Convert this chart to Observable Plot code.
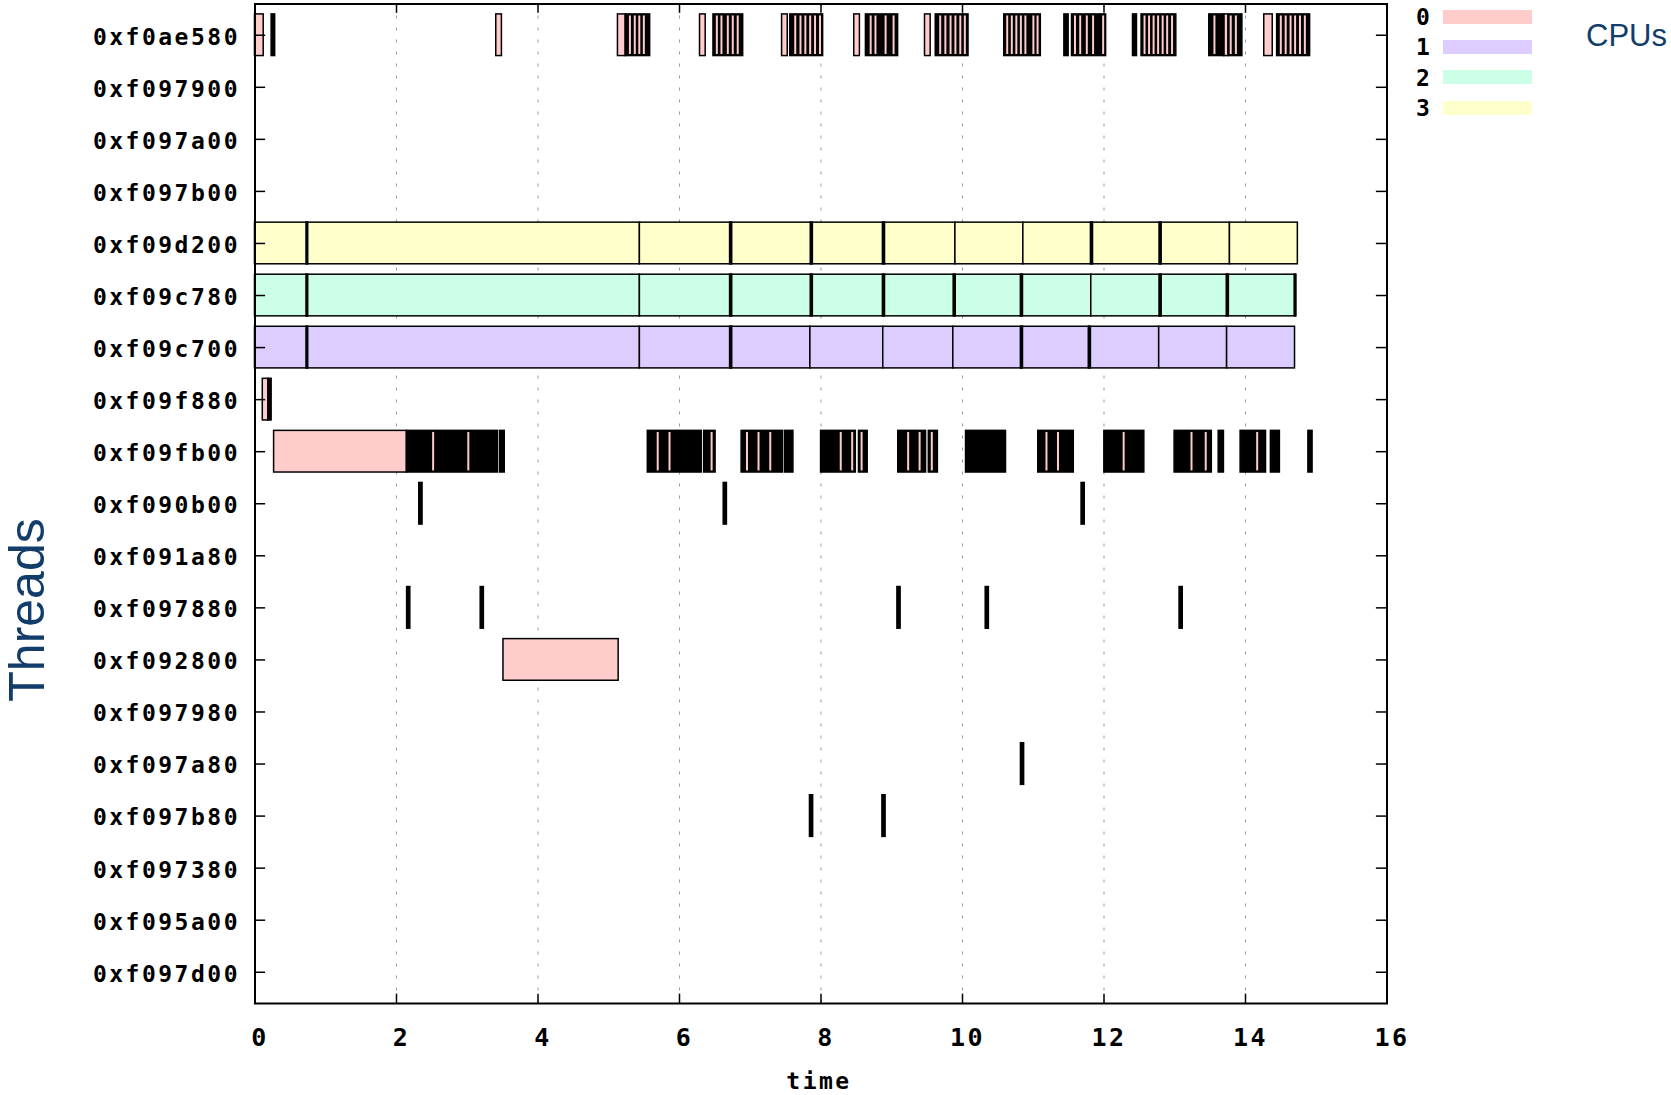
<!DOCTYPE html>
<html><head><meta charset="utf-8">
<script src="https://cdn.jsdelivr.net/npm/d3@7"></script>
<script src="https://cdn.jsdelivr.net/npm/@observablehq/plot@0.6"></script>
<style>
body{margin:0;background:#fff;}
#wrap{position:relative;width:1671px;height:1095px;overflow:hidden;}
.gp{font-family:"DejaVu Sans Mono",monospace;font-weight:bold;letter-spacing:2.5px;position:absolute;}
.ttl{font-family:"Liberation Sans",Arial,sans-serif;color:#123d6b;position:absolute;white-space:nowrap;}
</style></head><body><div id="wrap"></div>
<script>
// ---- categories ----
const threads = ["0xf0ae580","0xf097900","0xf097a00","0xf097b00","0xf09d200","0xf09c780","0xf09c700","0xf09f880","0xf09fb00","0xf090b00","0xf091a80","0xf097880","0xf092800","0xf097980","0xf097a80","0xf097b80","0xf097380","0xf095a00","0xf097d00"];
const cpus = [0, 1, 2, 3];
const cpuColors = ["#ffcccc", "#ddccff", "#ccffe8", "#ffffcc"];
const xTicks = [0, 2, 4, 6, 8, 10, 12, 14, 16];

// ---- CPU boundaries of the long-running threads (time) ----
const cpu3Bounds = [0, 0.74, 5.44, 6.73, 7.87, 8.89, 9.90, 10.86, 11.83, 12.80, 13.78, 14.74]; // 0xf09d200
const cpu2Bounds = [0, 0.74, 5.44, 6.73, 7.87, 8.89, 9.89, 10.84, 11.82, 12.80, 13.75, 14.71]; // 0xf09c780
const cpu1Bounds = [0, 0.74, 5.44, 6.73, 7.85, 8.88, 9.87, 10.84, 11.80, 12.78, 13.74, 14.70]; // 0xf09c700

// ---- other slices on CPU 0: [thread, start, end] ----
const cpu0Slices = [
  ["0xf0ae580", 0, 0.123], ["0xf0ae580", 3.41, 3.49], ["0xf0ae580", 5.13, 5.24], ["0xf0ae580", 6.29, 6.37],
  ["0xf0ae580", 7.45, 7.53], ["0xf0ae580", 8.47, 8.55], ["0xf0ae580", 9.47, 9.55], ["0xf0ae580", 13.70, 13.76],
  ["0xf0ae580", 14.265, 14.385],
  ["0xf09f880", 0.11, 0.19],
  ["0xf09fb00", 0.27, 2.147],
  ["0xf092800", 3.512, 5.14]
];

// ---- dense runs of very short slices (drawn solid black): [thread, start, end] ----
const denseRuns = [
  ["0xf0ae580", 0.235, 0.285], ["0xf0ae580", 5.24, 5.585], ["0xf0ae580", 6.48, 6.90], ["0xf0ae580", 7.566, 8.03],
  ["0xf0ae580", 8.635, 9.09], ["0xf0ae580", 9.622, 10.085], ["0xf0ae580", 10.59, 11.107], ["0xf0ae580", 11.44, 11.50],
  ["0xf0ae580", 11.548, 12.03], ["0xf0ae580", 12.41, 12.466], ["0xf0ae580", 12.531, 13.022], ["0xf0ae580", 13.488, 13.70],
  ["0xf0ae580", 13.76, 13.956], ["0xf0ae580", 14.447, 14.913],
  ["0xf09d200", 0.728, 0.752], ["0xf09d200", 6.715, 6.745], ["0xf09d200", 7.855, 7.885], ["0xf09d200", 8.875, 8.905],
  ["0xf09d200", 11.815, 11.845], ["0xf09d200", 12.785, 12.815],
  ["0xf09c780", 0.728, 0.752], ["0xf09c780", 6.715, 6.745], ["0xf09c780", 7.855, 7.885], ["0xf09c780", 8.875, 8.905],
  ["0xf09c780", 9.875, 9.905], ["0xf09c780", 10.825, 10.855], ["0xf09c780", 12.785, 12.815], ["0xf09c780", 13.735, 13.765],
  ["0xf09c780", 14.695, 14.72],
  ["0xf09c700", 0.728, 0.752], ["0xf09c700", 6.715, 6.745], ["0xf09c700", 10.825, 10.855], ["0xf09c700", 11.785, 11.815],
  ["0xf09f880", 0.19, 0.235],
  ["0xf09fb00", 2.147, 3.435], ["0xf09fb00", 3.465, 3.53], ["0xf09fb00", 5.552, 6.314], ["0xf09fb00", 6.348, 6.51],
  ["0xf09fb00", 6.878, 7.463], ["0xf09fb00", 7.492, 7.61], ["0xf09fb00", 8.001, 8.492], ["0xf09fb00", 8.537, 8.66],
  ["0xf09fb00", 9.092, 9.485], ["0xf09fb00", 9.524, 9.652], ["0xf09fb00", 10.05, 10.615], ["0xf09fb00", 11.071, 11.573],
  ["0xf09fb00", 12.005, 12.57], ["0xf09fb00", 12.998, 13.524], ["0xf09fb00", 13.621, 13.695], ["0xf09fb00", 13.931, 14.29],
  ["0xf09fb00", 14.359, 14.486], ["0xf09fb00", 14.889, 14.948],
  ["0xf090b00", 2.322, 2.368], ["0xf090b00", 6.625, 6.67], ["0xf090b00", 11.683, 11.728],
  ["0xf097880", 2.15, 2.195], ["0xf097880", 3.19, 3.235], ["0xf097880", 9.08, 9.125], ["0xf097880", 10.328, 10.373], ["0xf097880", 13.068, 13.113],
  ["0xf097a80", 10.826, 10.871],
  ["0xf097b80", 7.844, 7.889], ["0xf097b80", 8.868, 8.913]
];

// ---- visible CPU-0 slices inside the dense runs: [thread, centre time] ----
const cpu0Slits = [
  ["0xf0ae580", 5.306], ["0xf0ae580", 5.375], ["0xf0ae580", 5.439], ["0xf0ae580", 5.503],
  ["0xf0ae580", 6.535], ["0xf0ae580", 6.60], ["0xf0ae580", 6.69], ["0xf0ae580", 6.76], ["0xf0ae580", 6.83],
  ["0xf0ae580", 7.643], ["0xf0ae580", 7.717], ["0xf0ae580", 7.786], ["0xf0ae580", 7.854], ["0xf0ae580", 7.923], ["0xf0ae580", 7.993],
  ["0xf0ae580", 8.709], ["0xf0ae580", 8.777], ["0xf0ae580", 8.92], ["0xf0ae580", 9.033],
  ["0xf0ae580", 9.692], ["0xf0ae580", 9.765], ["0xf0ae580", 9.838], ["0xf0ae580", 9.907], ["0xf0ae580", 9.976], ["0xf0ae580", 10.04],
  ["0xf0ae580", 10.639], ["0xf0ae580", 10.704], ["0xf0ae580", 10.768], ["0xf0ae580", 10.832], ["0xf0ae580", 10.896], ["0xf0ae580", 11.009], ["0xf0ae580", 11.068],
  ["0xf0ae580", 11.597], ["0xf0ae580", 11.671], ["0xf0ae580", 11.764], ["0xf0ae580", 11.853], ["0xf0ae580", 11.995],
  ["0xf0ae580", 12.58], ["0xf0ae580", 12.644], ["0xf0ae580", 12.708], ["0xf0ae580", 12.772], ["0xf0ae580", 12.836], ["0xf0ae580", 12.90], ["0xf0ae580", 12.969],
  ["0xf0ae580", 13.568], ["0xf0ae580", 13.798], ["0xf0ae580", 13.871],
  ["0xf0ae580", 14.506], ["0xf0ae580", 14.575], ["0xf0ae580", 14.644], ["0xf0ae580", 14.708], ["0xf0ae580", 14.777], ["0xf0ae580", 14.846],
  ["0xf09fb00", 2.525], ["0xf09fb00", 3.022], ["0xf09fb00", 5.699], ["0xf09fb00", 5.866], ["0xf09fb00", 6.461],
  ["0xf09fb00", 6.961], ["0xf09fb00", 7.124], ["0xf09fb00", 7.29], ["0xf09fb00", 8.286], ["0xf09fb00", 8.448], ["0xf09fb00", 8.581],
  ["0xf09fb00", 9.239], ["0xf09fb00", 9.401], ["0xf09fb00", 9.573], ["0xf09fb00", 11.194], ["0xf09fb00", 11.357], ["0xf09fb00", 12.285],
  ["0xf09fb00", 13.244], ["0xf09fb00", 13.445], ["0xf09fb00", 14.172]
];

// ---- build tables ----
const rowOf = Object.fromEntries(threads.map((t, i) => [t, i]));
const slices = [];
[[cpu1Bounds, 1, "0xf09c700"], [cpu2Bounds, 2, "0xf09c780"], [cpu3Bounds, 3, "0xf09d200"]].forEach(([b, cpu, th]) => {
  for (let i = 0; i < b.length - 1; i++) slices.push({row: rowOf[th], cpu, start: b[i], end: b[i + 1]});
});
cpu0Slices.forEach(([th, s, e]) => slices.push({row: rowOf[th], cpu: 0, start: s, end: e}));
const runs = denseRuns.map(([th, s, e]) => ({row: rowOf[th], start: s, end: e}));
const slits = cpu0Slits.map(([th, t]) => ({row: rowOf[th], t, cpu: 0}));
const rowIdx = threads.map((_, i) => i);

const FONT = "DejaVu Sans Mono";
const H = 0.4, SLIT = 0.014;

const chart = Plot.plot({
  width: 1671, height: 1095,
  marginLeft: 254.5, marginRight: 284.5, marginTop: 3.5, marginBottom: 92,
  style: {background: "white", letterSpacing: "2.5px", overflow: "visible"},
  x: {domain: [0, 16], axis: null},
  y: {domain: [18.6, -0.6], axis: null},
  color: {domain: cpus, range: cpuColors},
  marks: [
    Plot.ruleX(xTicks.slice(1, -1), {x: d => d, stroke: "#9a9a9a", strokeWidth: 1, strokeDasharray: "3,9"}),
    Plot.rect(slices, {x1: "start", x2: "end", y1: d => d.row - H, y2: d => d.row + H, fill: "cpu", stroke: "black", strokeWidth: 1.5}),
    Plot.rect(runs, {x1: "start", x2: "end", y1: d => d.row - H, y2: d => d.row + H, fill: "black", stroke: "black", strokeWidth: 1.5}),
    Plot.rect(slits, {x1: d => d.t - SLIT, x2: d => d.t + SLIT, y1: d => d.row - H + 0.03, y2: d => d.row + H - 0.03, fill: "cpu"}),
    // inward ticks
    Plot.ruleY(rowIdx, {y: d => d, x1: 0, x2: 0.15, stroke: "black", strokeWidth: 1.5}),
    Plot.ruleY(rowIdx, {y: d => d, x1: 15.85, x2: 16, stroke: "black", strokeWidth: 1.5}),
    Plot.ruleX(xTicks, {x: d => d, y1: -0.6, y2: -0.42, stroke: "black", strokeWidth: 1.5}),
    Plot.ruleX(xTicks, {x: d => d, y1: 18.42, y2: 18.6, stroke: "black", strokeWidth: 1.5}),
    Plot.frame({stroke: "black", strokeWidth: 2}),
    // tick labels
    Plot.text(rowIdx, {y: d => d, text: d => threads[d], frameAnchor: "left", textAnchor: "end", lineAnchor: "middle", dx: -15, dy: 2,
      fontFamily: FONT, fontWeight: "bold", fontSize: 23, fill: "black"}),
    Plot.text(xTicks, {x: d => d, text: d => String(d), frameAnchor: "bottom", lineAnchor: "middle", dy: 34, dx: 5,
      fontFamily: FONT, fontWeight: "bold", fontSize: 25, fill: "black"}),
    Plot.text(["time"], {text: d => d, frameAnchor: "bottom", lineAnchor: "middle", dy: 78, dx: -2,
      fontFamily: FONT, fontWeight: "bold", fontSize: 23, fill: "black"})
  ]
});

const wrap = document.getElementById("wrap");
wrap.appendChild(chart);

// legend (CPUs)
cpus.forEach((c, i) => {
  const lab = document.createElement("div");
  lab.className = "gp";
  lab.textContent = String(c);
  lab.style.cssText += `left:1416px;top:${4 + i * 30.4}px;font-size:23px;line-height:26px;`;
  wrap.appendChild(lab);
  const sw = document.createElement("div");
  sw.style.cssText = `position:absolute;left:1443px;top:${9.5 + i * 30.4}px;width:89px;height:14px;background:${cpuColors[i]};`;
  wrap.appendChild(sw);
});
const cpuT = document.createElement("div");
cpuT.className = "ttl";
cpuT.textContent = "CPUs";
cpuT.style.cssText += "left:1586px;top:18px;font-size:31px;line-height:36px;";
wrap.appendChild(cpuT);
const thT = document.createElement("div");
thT.className = "ttl";
thT.textContent = "Threads";
thT.style.cssText += "left:27px;top:610px;font-size:50px;line-height:50px;transform:translate(-50%,-50%) rotate(-90deg);";
wrap.appendChild(thT);
</script></body></html>
